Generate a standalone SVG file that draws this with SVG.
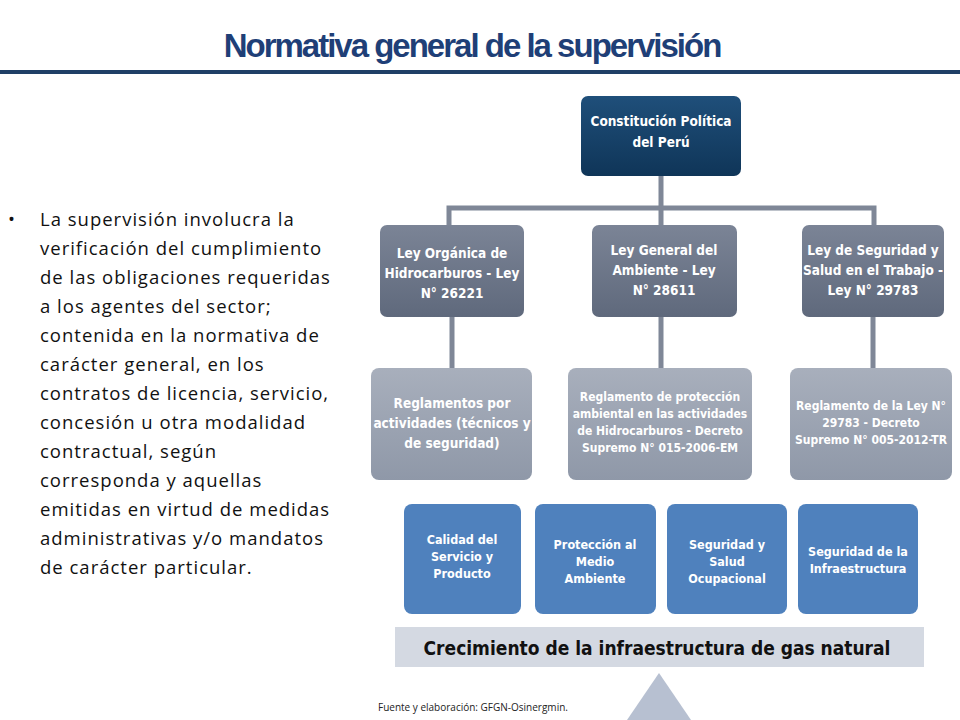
<svg xmlns="http://www.w3.org/2000/svg" width="960" height="720" viewBox="0 0 960 720">
<defs>
<style>
.t{font-family:"DejaVu Sans Condensed","Liberation Sans",Arial,sans-serif;font-weight:bold;fill:#fff;text-anchor:middle}
.lt{font-size:13.5px}
.st{font-size:12px}
.bt{font-size:12.5px}
.body{font-family:"Open Sans","DejaVu Sans",sans-serif;font-size:18.5px;letter-spacing:1px;fill:#111}
.c{stroke:#7f8797;stroke-width:5;fill:none}
</style>
<linearGradient id="gd" x1="0" y1="0" x2="0" y2="1"><stop offset="0" stop-color="#1f4f7a"/><stop offset="1" stop-color="#0f3558"/></linearGradient>
<linearGradient id="gm" x1="0" y1="0" x2="0" y2="1"><stop offset="0" stop-color="#7b8496"/><stop offset="1" stop-color="#5f697c"/></linearGradient>
<linearGradient id="gl" x1="0" y1="0" x2="0" y2="1"><stop offset="0" stop-color="#a8afbc"/><stop offset="1" stop-color="#8f98a8"/></linearGradient>
</defs>
<rect width="960" height="720" fill="#fff"/>
<text x="472" y="57" text-anchor="middle" font-family="'Liberation Sans',Arial,sans-serif" font-weight="bold" font-size="33" fill="#1f3f77" letter-spacing="-2">Normativa general de la supervisión</text>
<rect x="0" y="70" width="960" height="4" fill="#1f3f66"/>
<text class="body"><tspan x="8" y="226">•</tspan></text>
<text class="body">
<tspan x="40" y="226">La supervisión involucra la</tspan>
<tspan x="40" y="255">verificación del cumplimiento</tspan>
<tspan x="40" y="284">de las obligaciones requeridas</tspan>
<tspan x="40" y="313">a los agentes del sector;</tspan>
<tspan x="40" y="342">contenida en la normativa de</tspan>
<tspan x="40" y="371">carácter general, en los</tspan>
<tspan x="40" y="400">contratos de licencia, servicio,</tspan>
<tspan x="40" y="429">concesión u otra modalidad</tspan>
<tspan x="40" y="458">contractual, según</tspan>
<tspan x="40" y="487">corresponda y aquellas</tspan>
<tspan x="40" y="516">emitidas en virtud de medidas</tspan>
<tspan x="40" y="545">administrativas y/o mandatos</tspan>
<tspan x="40" y="574">de carácter particular.</tspan>
</text>
<g id="connectors">
<path class="c" d="M661 176V208M449 225V208H874V225M661 208V225"/>
<path class="c" d="M452 317V368M661 317V368M873 317V368"/>
</g>
<g id="n-constitucion"><rect x="581" y="96" width="160" height="80" rx="7" fill="url(#gd)"/>
<text class="t lt"><tspan x="661" y="126">Constitución Política</tspan><tspan x="661" y="147">del Perú</tspan></text></g>
<g id="n-ley1"><rect x="380" y="225" width="144" height="92" rx="7" fill="url(#gm)"/>
<text class="t lt"><tspan x="452" y="258">Ley Orgánica de</tspan><tspan x="452" y="278">Hidrocarburos - Ley</tspan><tspan x="452" y="298">N° 26221</tspan></text></g>
<g id="n-ley2"><rect x="592" y="225" width="145" height="92" rx="7" fill="url(#gm)"/>
<text class="t lt"><tspan x="664" y="255">Ley General del</tspan><tspan x="664" y="275">Ambiente - Ley</tspan><tspan x="664" y="295">N° 28611</tspan></text></g>
<g id="n-ley3"><rect x="802" y="225" width="142" height="92" rx="7" fill="url(#gm)"/>
<text class="t lt"><tspan x="873" y="255">Ley de Seguridad y</tspan><tspan x="873" y="275">Salud en el Trabajo -</tspan><tspan x="873" y="295">Ley N° 29783</tspan></text></g>
<g id="n-reg1"><rect x="371" y="368" width="161" height="112" rx="8" fill="url(#gl)"/>
<text class="t lt"><tspan x="452" y="408">Reglamentos por</tspan><tspan x="452" y="428">actividades (técnicos y</tspan><tspan x="452" y="448">de seguridad)</tspan></text></g>
<g id="n-reg2"><rect x="568" y="368" width="184" height="112" rx="8" fill="url(#gl)"/>
<text class="t st"><tspan x="660" y="401">Reglamento de protección</tspan><tspan x="660" y="418">ambiental en las actividades</tspan><tspan x="660" y="435">de Hidrocarburos  - Decreto</tspan><tspan x="660" y="452">Supremo N° 015-2006-EM</tspan></text></g>
<g id="n-reg3"><rect x="790" y="368" width="162" height="112" rx="8" fill="url(#gl)"/>
<text class="t st"><tspan x="871" y="410">Reglamento de la Ley N°</tspan><tspan x="871" y="427">29783 - Decreto</tspan><tspan x="871" y="444">Supremo N° 005-2012-TR</tspan></text></g>
<g id="n-b1"><rect x="404" y="504" width="117" height="110" rx="8" fill="#4f81bd"/>
<text class="t bt"><tspan x="462" y="544">Calidad del</tspan><tspan x="462" y="561">Servicio y</tspan><tspan x="462" y="578">Producto</tspan></text></g>
<g id="n-b2"><rect x="535" y="504" width="121" height="110" rx="8" fill="#4f81bd"/>
<text class="t bt"><tspan x="595" y="549">Protección al</tspan><tspan x="595" y="566">Medio</tspan><tspan x="595" y="583">Ambiente</tspan></text></g>
<g id="n-b3"><rect x="667" y="504" width="120" height="110" rx="8" fill="#4f81bd"/>
<text class="t bt"><tspan x="727" y="549">Seguridad y</tspan><tspan x="727" y="566">Salud</tspan><tspan x="727" y="583">Ocupacional</tspan></text></g>
<g id="n-b4"><rect x="798" y="504" width="120" height="110" rx="8" fill="#4f81bd"/>
<text class="t bt"><tspan x="858" y="556">Seguridad de la</tspan><tspan x="858" y="573">Infraestructura</tspan></text></g>
<g id="n-base"><rect x="395" y="627" width="529" height="40" fill="#d4d9e2"/>
<text x="657" y="655" text-anchor="middle" font-family="'DejaVu Sans Condensed','Liberation Sans',Arial,sans-serif" font-weight="bold" font-size="19" fill="#111">Crecimiento de la infraestructura de gas natural</text></g>
<polygon points="659,673 627,720 691,720" fill="#b7c0d1"/>
<text x="378" y="711" font-family="'Open Sans','DejaVu Sans',sans-serif" font-size="10" fill="#222">Fuente y elaboración: GFGN-Osinergmin.</text>
</svg>
